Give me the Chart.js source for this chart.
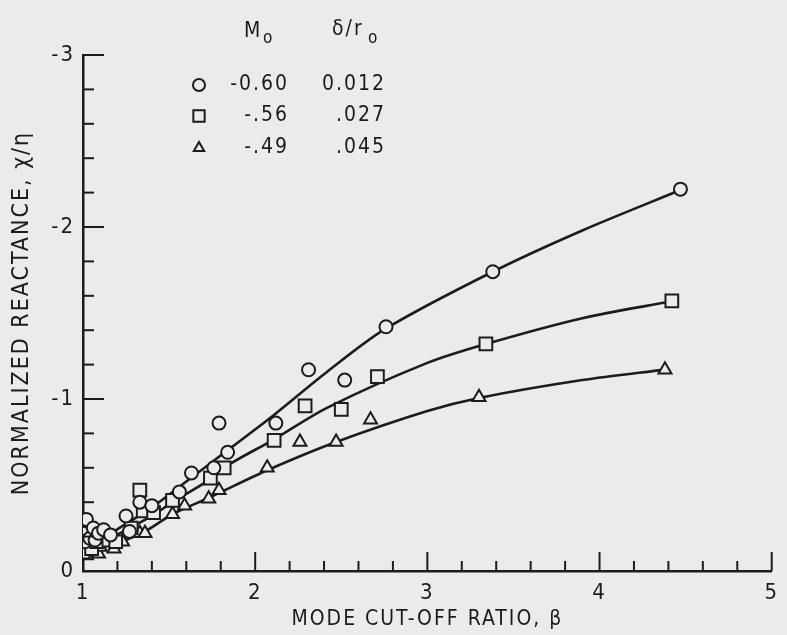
<!DOCTYPE html>
<html lang="en">
<head>
<meta charset="UTF-8" />
<title>Normalized reactance vs mode cut-off ratio</title>
<script src="https://cdn.jsdelivr.net/npm/chart.js"></script>
<style>
  html, body { margin: 0; padding: 0; background: #ebebeb; }
</style>
</head>
<body>
<canvas id="chart" width="787" height="635"></canvas>
<script>
  // measured points, [beta, chi/eta]
  const circlePts = [[1.00,-0.22],[1.01,-0.17],[1.02,-0.30],[1.04,-0.19],[1.06,-0.25],[1.07,-0.18],[1.09,-0.22],
    [1.12,-0.24],[1.16,-0.21],[1.25,-0.32],[1.27,-0.23],[1.33,-0.40],[1.40,-0.38],[1.56,-0.46],[1.63,-0.57],
    [1.76,-0.60],[1.79,-0.86],[1.84,-0.69],[2.12,-0.86],[2.31,-1.17],[2.52,-1.11],[2.76,-1.42],[3.38,-1.74],
    [4.47,-2.22]];
  const squarePts = [[0.99,-0.15],[1.00,-0.11],[1.02,-0.20],[1.05,-0.13],[1.06,-0.18],[1.08,-0.17],[1.11,-0.20],
    [1.15,-0.18],[1.19,-0.17],[1.28,-0.25],[1.33,-0.47],[1.35,-0.35],[1.41,-0.34],[1.52,-0.41],[1.74,-0.54],
    [1.82,-0.60],[2.11,-0.76],[2.29,-0.96],[2.50,-0.94],[2.71,-1.13],[3.34,-1.32],[4.42,-1.57]];
  const trianglePts = [[1.01,-0.11],[1.02,-0.09],[1.04,-0.16],[1.07,-0.12],[1.09,-0.10],[1.10,-0.14],[1.18,-0.13],
    [1.23,-0.17],[1.33,-0.22],[1.36,-0.22],[1.52,-0.33],[1.59,-0.38],[1.73,-0.42],[1.79,-0.47],[2.07,-0.60],
    [2.26,-0.75],[2.47,-0.75],[2.67,-0.88],[3.30,-1.01],[4.38,-1.17]];

  // faired curves
  const circleCurve = [[1.18,-0.23],[1.40,-0.37],[1.60,-0.52],[1.85,-0.71],[2.10,-0.90],[2.42,-1.16],[2.76,-1.41],
    [3.38,-1.74],[3.90,-1.98],[4.47,-2.215]];
  const squareCurve = [[1.18,-0.20],[1.40,-0.32],[1.52,-0.40],[1.75,-0.54],[1.85,-0.62],[2.10,-0.76],[2.42,-0.95],
    [3.00,-1.21],[3.34,-1.32],[3.90,-1.47],[4.42,-1.568]];
  const triangleCurve = [[1.18,-0.15],[1.36,-0.23],[1.52,-0.33],[1.74,-0.43],[2.08,-0.59],[2.47,-0.75],[3.00,-0.93],
    [3.30,-1.006],[3.90,-1.11],[4.38,-1.171]];

  const xTicks = [1, 2, 3, 4, 5];
  const yTicks = [0, -1, -2, -3];

  const legendStyles = ['circle', 'rect', 'triangle'];
  const legendMach = ['-0.60', '-.56', '-.49'];
  const legendDelta = ['0.012', '.027', '.045'];

  const ink = '#1c1c1c';
  const paper = '#ebebeb';
  const face = "'DejaVu Sans Condensed', 'Liberation Sans Narrow', 'Roboto Condensed', sans-serif";

  const toXY = arr => arr.map(p => ({ x: p[0], y: p[1] }));

  function curve(data) {
    return {
      type: 'line', data: toXY(data), borderColor: ink, borderWidth: 2.6,
      pointRadius: 0, tension: 0.3, fill: false, order: 2
    };
  }
  function marks(data, style, r) {
    return {
      type: 'scatter', data: toXY(data), pointStyle: style, pointRadius: r,
      borderColor: ink, backgroundColor: paper, pointBorderWidth: 2, showLine: false, order: 1
    };
  }

  // wider type, like the lettering of the original
  const spacing = {
    id: 'spacing',
    beforeDraw(chart) { chart.ctx.letterSpacing = '2px'; }
  };

  const innerTicks = {
    id: 'innerTicks',
    afterDraw(chart) {
      const { ctx, scales: { x, y } } = chart;
      ctx.save();
      ctx.strokeStyle = ink;
      ctx.lineWidth = 2;
      for (let i = 1; i <= 20; i++) {
        const px = x.getPixelForValue(1 + i * 0.2);
        const len = i % 5 === 0 ? 19 : 10;
        ctx.beginPath();
        ctx.moveTo(px, y.bottom);
        ctx.lineTo(px, y.bottom - len);
        ctx.stroke();
      }
      for (let i = 1; i <= 15; i++) {
        const py = y.getPixelForValue(-i * 0.2);
        const len = i % 5 === 0 ? 21 : 11;
        ctx.beginPath();
        ctx.moveTo(x.left, py);
        ctx.lineTo(x.left + len, py);
        ctx.stroke();
      }
      ctx.restore();
    }
  };

  const tableLegend = {
    id: 'tableLegend',
    afterDraw(chart) {
      const ctx = chart.ctx;
      ctx.save();
      ctx.fillStyle = ink;
      ctx.textBaseline = 'alphabetic';
      ctx.font = '21px ' + face;
      ctx.textAlign = 'left';
      ctx.fillText('M', 244, 37);
      ctx.fillText('δ/r', 332, 35);
      ctx.font = '17px ' + face;
      ctx.fillText('o', 263, 43);
      ctx.fillText('o', 368, 43);
      ctx.font = '21px ' + face;
      ctx.textAlign = 'right';
      ctx.textBaseline = 'middle';
      const rows = [85, 116, 148];
      rows.forEach((ry, i) => {
        ctx.fillText(legendMach[i], 289, ry);
        ctx.fillText(legendDelta[i], 386, ry);
        ctx.strokeStyle = ink;
        ctx.fillStyle = paper;
        ctx.lineWidth = 2;
        Chart.helpers.drawPoint(ctx, { pointStyle: legendStyles[i], radius: i === 1 ? 8 : 6, borderWidth: 2 }, 199, ry);
        ctx.fillStyle = ink;
      });
      ctx.restore();
    }
  };

  new Chart(document.getElementById('chart'), {
    type: 'scatter',
    data: {
      datasets: [
        marks(circlePts, 'circle', 6.5),
        marks(squarePts, 'rect', 9),
        marks(trianglePts, 'triangle', 7.5),
        curve(circleCurve),
        curve(squareCurve),
        curve(triangleCurve)
      ]
    },
    options: {
      responsive: false,
      animation: false,
      layout: { padding: { top: 55, right: 7, left: 0, bottom: 0 } },
      plugins: { legend: { display: false }, tooltip: { enabled: false } },
      scales: {
        x: {
          type: 'linear', min: 1, max: 5,
          afterFit(s) { s.height = 64; },
          afterBuildTicks(s) { s.ticks = xTicks.map(v => ({ value: v })); },
          grid: { drawOnChartArea: false, drawTicks: false },
          border: { display: true, color: ink, width: 2.5 },
          ticks: { color: ink, font: { family: face, size: 22 }, padding: 9 },
          title: {
            display: true, text: 'MODE CUT-OFF RATIO, β', color: ink,
            font: { family: face, size: 21 }, padding: { top: 0, bottom: 3 }
          }
        },
        y: {
          type: 'linear', min: -3, max: 0, reverse: true,
          afterFit(s) { s.width = 83; },
          afterBuildTicks(s) { s.ticks = yTicks.map(v => ({ value: v })); },
          grid: { drawOnChartArea: false, drawTicks: false },
          border: { display: true, color: ink, width: 2.5 },
          ticks: { color: ink, font: { family: face, size: 22 }, padding: 8 },
          title: {
            display: true, text: 'NORMALIZED REACTANCE, χ/η', color: ink,
            font: { family: face, size: 23 }, padding: { top: 8, bottom: 0 }
          }
        }
      }
    },
    plugins: [spacing, innerTicks, tableLegend]
  });
</script>
</body>
</html>
